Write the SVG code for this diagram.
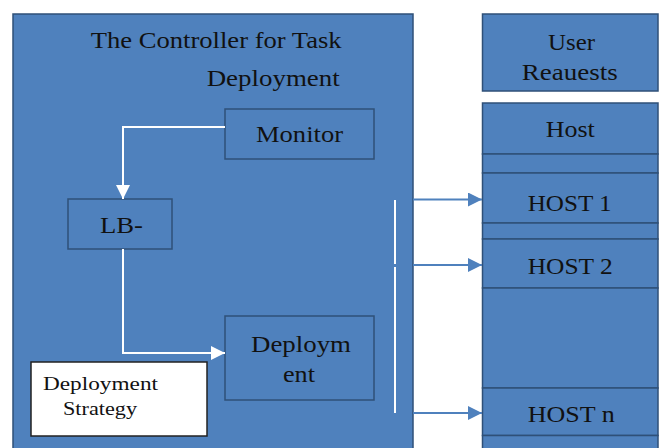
<svg xmlns="http://www.w3.org/2000/svg" width="661" height="448" viewBox="0 0 661 448">
<defs>
<style>
.box{fill:#4F81BD;stroke:#2F5078;stroke-width:1.5}
.t{font-family:'Liberation Serif','Times New Roman',serif;font-size:23px;fill:#111}
.s{font-family:'Liberation Serif','Times New Roman',serif;font-size:18px;fill:#111}
.w{fill:none;stroke:#fff;stroke-width:2}
.b{fill:none;stroke:#4F81BD;stroke-width:2}
</style>
<marker id="aw" viewBox="0 0 14 14" refX="14" refY="7" markerWidth="14" markerHeight="14" markerUnits="userSpaceOnUse" orient="auto"><path d="M0,0 L14,7 L0,14 z" fill="#fff"/></marker>
<marker id="ab" viewBox="0 0 14 14" refX="14" refY="7" markerWidth="14" markerHeight="14" markerUnits="userSpaceOnUse" orient="auto"><path d="M0,0 L14,7 L0,14 z" fill="#4F81BD"/></marker>
</defs>
<rect width="661" height="448" fill="#fff"/>
<g id="controller">
<rect class="box" x="13" y="14" width="400" height="445"/>
<text class="t" x="90.7" y="48" textLength="251" lengthAdjust="spacingAndGlyphs">The Controller for Task</text>
<text class="t" x="206.7" y="85.5" textLength="133" lengthAdjust="spacingAndGlyphs">Deployment</text>
</g>
<g id="monitor">
<rect class="box" x="225" y="109" width="149" height="50"/>
<text class="t" x="256" y="142" textLength="87" lengthAdjust="spacingAndGlyphs">Monitor</text>
</g>
<g id="lb">
<rect class="box" x="68" y="199" width="104" height="50"/>
<text class="t" x="100" y="233" textLength="43" lengthAdjust="spacingAndGlyphs">LB-</text>
</g>
<g id="deployment">
<rect class="box" x="225" y="316" width="149" height="84"/>
<text class="t" x="251" y="352" textLength="100" lengthAdjust="spacingAndGlyphs">Deploym</text>
<text class="t" x="283" y="382" textLength="32" lengthAdjust="spacingAndGlyphs">ent</text>
</g>
<g id="strategy">
<rect x="31" y="362" width="176" height="74" fill="#fff" stroke="#222" stroke-width="1.5"/>
<text class="s" x="43" y="390" textLength="115" lengthAdjust="spacingAndGlyphs">Deployment</text>
<text class="s" x="63" y="415" textLength="74" lengthAdjust="spacingAndGlyphs">Strategy</text>
</g>
<g id="user-requests">
<rect class="box" x="482.5" y="14" width="175.5" height="77"/>
<text class="t" x="548" y="50" textLength="47" lengthAdjust="spacingAndGlyphs">User</text>
<text class="t" x="521.7" y="80" textLength="96" lengthAdjust="spacingAndGlyphs">Reauests</text>
</g>
<g id="hosts">
<rect class="box" x="482.5" y="103" width="175.5" height="51"/>
<text class="t" x="545.7" y="137" textLength="49" lengthAdjust="spacingAndGlyphs">Host</text>
<rect class="box" x="482.5" y="154" width="175.5" height="19"/>
<rect class="box" x="482.5" y="173" width="175.5" height="50"/>
<text class="t" x="527.7" y="211" textLength="84" lengthAdjust="spacingAndGlyphs">HOST 1</text>
<rect class="box" x="482.5" y="223" width="175.5" height="16"/>
<rect class="box" x="482.5" y="239" width="175.5" height="49"/>
<text class="t" x="527.7" y="274" textLength="85" lengthAdjust="spacingAndGlyphs">HOST 2</text>
<rect class="box" x="482.5" y="288" width="175.5" height="100"/>
<rect class="box" x="482.5" y="388" width="175.5" height="47.5"/>
<text class="t" x="527.7" y="422" textLength="87" lengthAdjust="spacingAndGlyphs">HOST n</text>
<rect class="box" x="482.5" y="435.5" width="175.5" height="20"/>
</g>
<g id="connectors">
<path class="w" d="M225,127 H123 V199" marker-end="url(#aw)"/>
<path class="w" d="M123,249 V353 H225" marker-end="url(#aw)"/>
<path class="w" d="M395,200 V264 M395,267 V413"/>
<path class="b" d="M413,199.5 H482" marker-end="url(#ab)"/>
<path class="b" d="M413,265 H482" marker-end="url(#ab)"/>
<path class="b" d="M413,413 H482" marker-end="url(#ab)"/>
</g>
</svg>
